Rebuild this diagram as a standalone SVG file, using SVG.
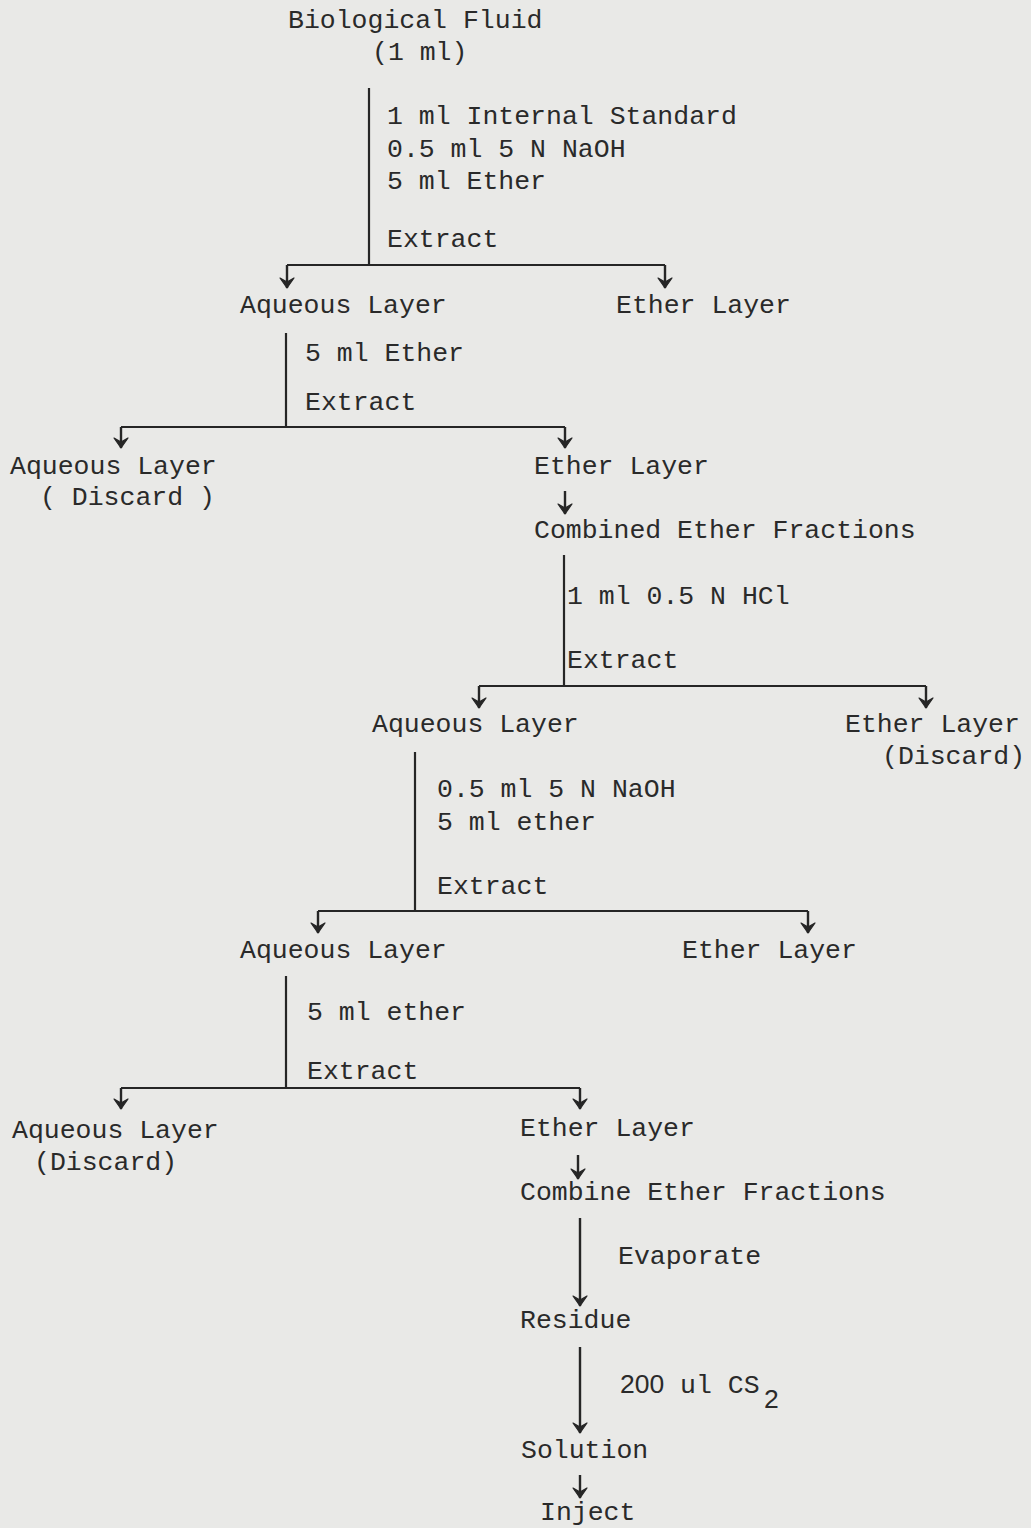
<svg xmlns="http://www.w3.org/2000/svg" width="1031" height="1528" viewBox="0 0 1031 1528">
<defs>
<marker id="ah" markerUnits="userSpaceOnUse" markerWidth="16" markerHeight="16" viewBox="0 0 16 16" refX="8" refY="14" orient="0">
<path d="M1,4 L8,8 L15,4 L8,14 Z" fill="#262626" stroke="#262626" stroke-width="1.2" stroke-linejoin="round"/>
</marker>
</defs>
<style>
text{font-family:"Liberation Mono","Courier New",monospace;font-size:26.5px;fill:#2a2a2a}
.sans{font-family:"Liberation Sans",Arial,sans-serif}
.ln{stroke:#262626;stroke-width:2.2;fill:none}
.ar{stroke:#262626;stroke-width:2.4;fill:none;marker-end:url(#ah)}
</style>
<rect width="1031" height="1528" fill="#e9e9e7"/>
<g id="connectors">
<path class="ln" d="M369,88 V265 M287,265 H665"/>
<path class="ar" d="M287,265 V288"/>
<path class="ar" d="M665,265 V288"/>
<path class="ln" d="M286,333 V427 M121,427 H565"/>
<path class="ar" d="M121,427 V448"/>
<path class="ar" d="M565,427 V448"/>
<path class="ar" d="M565,491 V514"/>
<path class="ln" d="M564,555 V686 M479,686 H926"/>
<path class="ar" d="M479,686 V708"/>
<path class="ar" d="M926,686 V708"/>
<path class="ln" d="M415,752 V911 M318,911 H808"/>
<path class="ar" d="M318,911 V933"/>
<path class="ar" d="M808,911 V933"/>
<path class="ln" d="M286,976 V1088 M121,1088 H580"/>
<path class="ar" d="M121,1088 V1109"/>
<path class="ar" d="M580,1088 V1109"/>
<path class="ar" d="M578,1155 V1179"/>
<path class="ar" d="M580,1218 V1306"/>
<path class="ar" d="M580,1347 V1433"/>
<path class="ar" d="M580,1475 V1498"/>
</g>
<g id="n-bio"><text x="288" y="28">Biological Fluid</text><text x="372" y="60">(1 ml)</text></g>
<g id="l-step1"><text x="387" y="124">1 ml Internal Standard</text><text x="387" y="157">0.5 ml 5 N NaOH</text><text x="387" y="189">5 ml Ether</text><text x="387" y="247">Extract</text></g>
<g id="n-aq1"><text x="240" y="313">Aqueous Layer</text></g>
<g id="n-et1"><text x="616" y="313">Ether Layer</text></g>
<g id="l-step2"><text x="305" y="361">5 ml Ether</text><text x="305" y="410">Extract</text></g>
<g id="n-aq2"><text x="10" y="474">Aqueous Layer</text><text x="40" y="505">( Discard )</text></g>
<g id="n-et2"><text x="534" y="474">Ether Layer</text></g>
<g id="n-comb1"><text x="534" y="538">Combined Ether Fractions</text></g>
<g id="l-step3"><text x="567" y="604">1 ml 0.5 N HCl</text><text x="567" y="668">Extract</text></g>
<g id="n-aq3"><text x="372" y="732">Aqueous Layer</text></g>
<g id="n-et3"><text x="845" y="732">Ether Layer</text><text x="882" y="764">(Discard)</text></g>
<g id="l-step4"><text x="437" y="797">0.5 ml 5 N NaOH</text><text x="437" y="830">5 ml ether</text><text x="437" y="894">Extract</text></g>
<g id="n-aq4"><text x="240" y="958">Aqueous Layer</text></g>
<g id="n-et4"><text x="682" y="958">Ether Layer</text></g>
<g id="l-step5"><text x="307" y="1020">5 ml ether</text><text x="307" y="1079">Extract</text></g>
<g id="n-aq5"><text x="12" y="1138">Aqueous Layer</text><text x="34" y="1170">(Discard)</text></g>
<g id="n-et5"><text x="520" y="1136">Ether Layer</text></g>
<g id="n-comb2"><text x="520" y="1200">Combine Ether Fractions</text></g>
<g id="l-evap"><text x="618" y="1264">Evaporate</text></g>
<g id="n-res"><text x="520" y="1328">Residue</text></g>
<g id="l-cs2"><text x="620" y="1393"><tspan class="sans">200</tspan> ul CS</text><text class="sans" x="764" y="1408">2</text></g>
<g id="n-sol"><text x="521" y="1458">Solution</text></g>
<g id="n-inj"><text x="540" y="1520">Inject</text></g>
</svg>
